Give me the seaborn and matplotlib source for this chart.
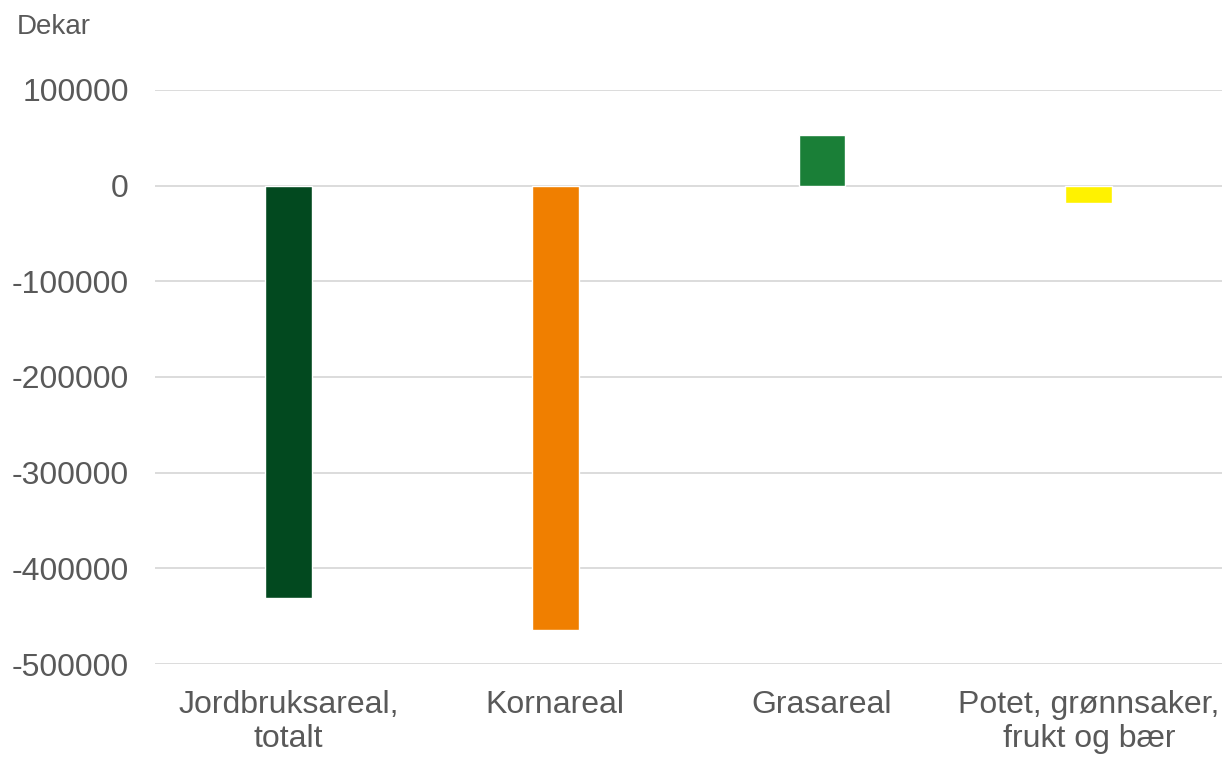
#Making imports
import pandas as pd
import matplotlib.pyplot as plt
import seaborn as sns
from matplotlib.ticker import FuncFormatter

#Chart data
categories = ['Jordbruksareal,\ntotalt', 'Kornareal', 'Grasareal', 'Potet, grønnsaker,\nfrukt og bær']
change = [-431000, -464000, 53000, -18000]
colors = ['#02491f', '#f07f00', '#1a7f37', '#fff200']

df = pd.DataFrame({'kategori': categories, 'endring': change})

#Basic style
sns.set_style('white')
plt.rcParams['font.family'] = ['Liberation Sans', 'DejaVu Sans']
plt.rcParams['axes.unicode_minus'] = False
text_color = '#595959'

fig = plt.figure(figsize=(12.32, 7.6), dpi=100)
ax = fig.add_axes([0.126, 0.1263, 0.866, 0.7553])

#Bars, one colour per category
sns.barplot(data=df, x='kategori', y='endring', hue='kategori', palette=colors,
            width=0.175, legend=False, saturation=1, ax=ax)

#Axis setup
ax.set_ylim(-500000, 100000)
ax.set_yticks(range(-500000, 100001, 100000))
ax.yaxis.set_major_formatter(FuncFormatter(lambda v, p: f'{int(v)}'))
ax.grid(axis='y', color='#d9d9d9', linewidth=1.3)
ax.set_axisbelow(True)
sns.despine(ax=ax, left=True, bottom=True)
ax.set_xlabel('')
ax.set_ylabel('')
ax.tick_params(axis='y', length=0, pad=19, labelsize=23, labelcolor=text_color)
ax.tick_params(axis='x', length=0, pad=19, labelsize=23, labelcolor=text_color)
for lab in ax.get_xticklabels():
    lab.set_linespacing(1.15)

#Unit label
fig.text(0.014, 0.964, 'Dekar', fontsize=20, color=text_color, va='center', ha='left')

plt.savefig('out.png', dpi=100)
